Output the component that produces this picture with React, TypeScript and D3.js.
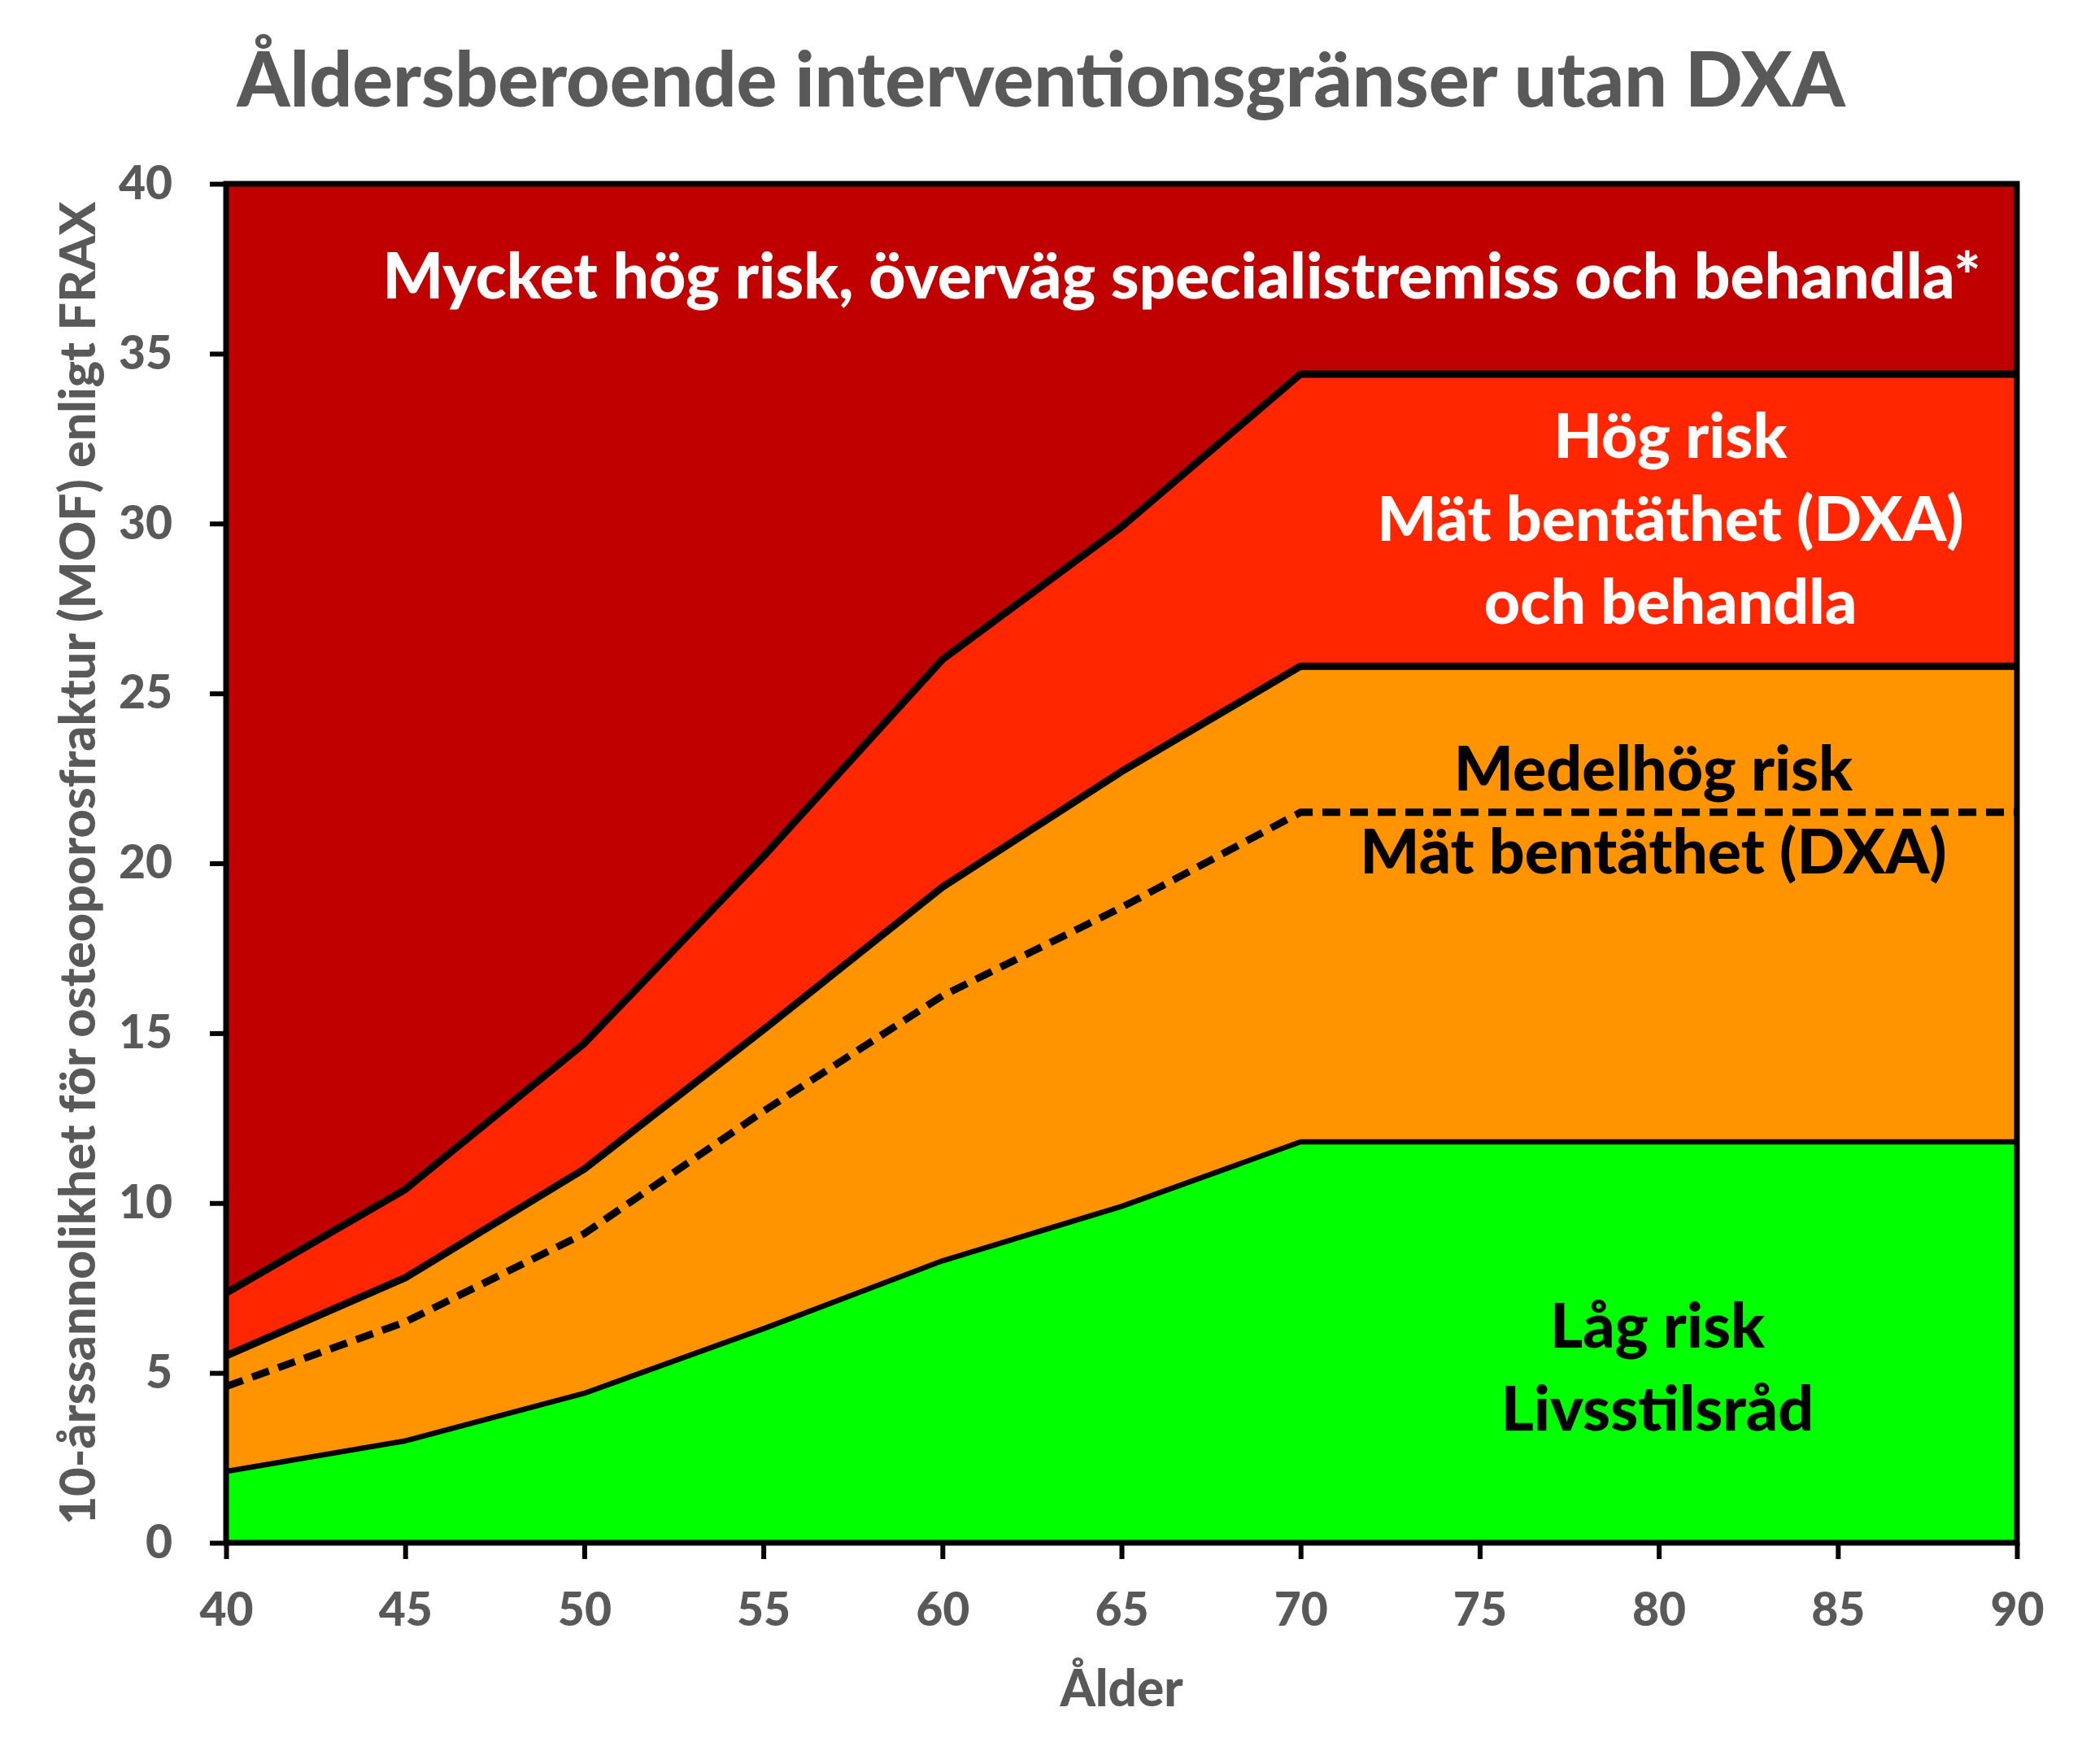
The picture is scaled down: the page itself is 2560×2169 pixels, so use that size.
import * as d3 from "d3";
import { useEffect, useRef } from "react";

// FRAX thresholds (10-year MOF probability, %) per age
const ages = [40, 45, 50, 55, 60, 65, 70, 75, 80, 85, 90];
const lowRiskTop = [2.1, 3.0, 4.4, 6.3, 8.3, 9.9, 11.8, 11.8, 11.8, 11.8, 11.8];
const dxaThreshold = [4.6, 6.5, 9.1, 12.7, 16.1, 18.7, 21.5, 21.5, 21.5, 21.5, 21.5];
const moderateTop = [5.5, 7.8, 11.0, 15.1, 19.3, 22.7, 25.8, 25.8, 25.8, 25.8, 25.8];
const highTop = [7.35, 10.4, 14.7, 20.2, 26.0, 29.9, 34.4, 34.4, 34.4, 34.4, 34.4];

const yTicks = [0, 5, 10, 15, 20, 25, 30, 35, 40];
const xTicks = [40, 45, 50, 55, 60, 65, 70, 75, 80, 85, 90];

const title = "Åldersberoende interventionsgränser utan DXA";
const yLabel = "10-årssannolikhet för osteoporosfraktur (MOF) enligt FRAX";
const xLabel = "Ålder";

const veryHighText = ["Mycket hög risk, överväg specialistremiss och behandla*"];
const highText = ["Hög risk", "Mät bentäthet (DXA)", "och behandla"];
const moderateText = ["Medelhög risk", "Mät bentäthet (DXA)"];
const lowText = ["Låg risk", "Livsstilsråd"];

const FONT = "Lato, 'Open Sans', sans-serif";
const GREY = "#595959";
const WEIGHT = "900";

export default function App() {
    const ref = useRef<SVGSVGElement>(null);

    useEffect(() => {
        const svg = d3.select(ref.current);
        svg.selectAll("*").remove();

        const width = 2560;
        const height = 2169;
        const margin = { top: 226, right: 80, bottom: 272, left: 278 };

        const x = d3.scaleLinear().domain([40, 90]).range([margin.left, width - margin.right]);
        const y = d3.scaleLinear().domain([0, 40]).range([height - margin.bottom, margin.top]);

        const rows = ages.map((a, i) => ({
            age: a,
            low: lowRiskTop[i],
            dxa: dxaThreshold[i],
            mod: moderateTop[i],
            high: highTop[i],
        }));

        svg.append("rect").attr("width", width).attr("height", height).attr("fill", "#fff");

        // Bands, back to front
        const bands = [
            { key: "top", color: "#C00000", get: () => 40 },
            { key: "high", color: "#FF2600", get: (d) => d.high },
            { key: "mod", color: "#FF9300", get: (d) => d.mod },
            { key: "low", color: "#00FF00", get: (d) => d.low },
        ];
        bands.forEach((b) => {
            svg.append("path")
                .attr("fill", b.color)
                .attr("d", d3.area().x((d: any) => x(d.age)).y0(y(0)).y1((d: any) => y(b.get(d)))(rows as any));
        });

        // Boundary lines
        const line = (get) => d3.line().x((d: any) => x(d.age)).y((d: any) => y(get(d)))(rows as any);
        [(d) => d.high, (d) => d.mod].forEach((g) => {
            svg.append("path").attr("d", line(g)).attr("fill", "none").attr("stroke", "#000")
                .attr("stroke-width", 9).attr("stroke-linejoin", "round");
        });
        svg.append("path").attr("d", line((d) => d.low)).attr("fill", "none").attr("stroke", "#000")
            .attr("stroke-width", 6.5).attr("stroke-linejoin", "round");
        svg.append("path").attr("d", line((d) => d.dxa)).attr("fill", "none").attr("stroke", "#000")
            .attr("stroke-width", 9).attr("stroke-dasharray", "22,12");

        // Frame
        svg.append("rect")
            .attr("x", x(40)).attr("y", y(40))
            .attr("width", x(90) - x(40)).attr("height", y(0) - y(40))
            .attr("fill", "none").attr("stroke", "#000").attr("stroke-width", 7);

        // Axes
        const styleAxis = (g) => {
            g.select(".domain").remove();
            g.selectAll("line").attr("stroke", "#000").attr("stroke-width", 6);
            g.selectAll("text")
                .attr("fill", GREY)
                .style("font-family", FONT)
                .style("font-weight", WEIGHT)
                .style("font-size", "57px");
        };

        svg.append("g")
            .attr("transform", `translate(${margin.left},0)`)
            .call(d3.axisLeft(y).tickValues(yTicks).tickSize(20).tickPadding(46).tickSizeOuter(0))
            .call(styleAxis);

        svg.append("g")
            .attr("transform", `translate(0,${height - margin.bottom})`)
            .call(d3.axisBottom(x).tickValues(xTicks).tickSize(20).tickPadding(42).tickSizeOuter(0))
            .call(styleAxis);

        // Titles
        svg.append("text")
            .attr("x", width / 2).attr("y", 131)
            .attr("text-anchor", "middle")
            .attr("fill", GREY)
            .style("font-family", FONT).style("font-weight", WEIGHT).style("font-size", "93px")
            .text(title);

        svg.append("text")
            .attr("transform", `translate(117,${(y(0) + y(40)) / 2}) rotate(-90)`)
            .attr("text-anchor", "middle")
            .attr("fill", GREY)
            .style("font-family", FONT).style("font-weight", WEIGHT).style("font-size", "61px")
            .text(yLabel);

        svg.append("text")
            .attr("x", (x(40) + x(90)) / 2).attr("y", 2098)
            .attr("text-anchor", "middle")
            .attr("fill", GREY)
            .style("font-family", FONT).style("font-weight", WEIGHT).style("font-size", "62px")
            .text(xLabel);

        // Band labels
        const block = (lines, cx, baseline, color, size) => {
            lines.forEach((t, i) => {
                svg.append("text")
                    .attr("x", cx).attr("y", baseline + i * 102)
                    .attr("text-anchor", "middle")
                    .attr("fill", color)
                    .style("font-family", FONT).style("font-weight", WEIGHT).style("font-size", `${size}px`)
                    .text(t);
            });
        };
        block(veryHighText, 1453, 367, "#fff", 78.5);
        block(highText, 2054, 563, "#fff", 77);
        block(moderateText, 2033, 972, "#000", 77);
        block(lowText, 2038, 1657, "#000", 77);
    }, []);

    return (
        <svg
            ref={ref}
            width={2560}
            height={2169}
            style={{ position: "absolute", left: 0, top: 0, display: "block" }}
        ></svg>
    );
}
